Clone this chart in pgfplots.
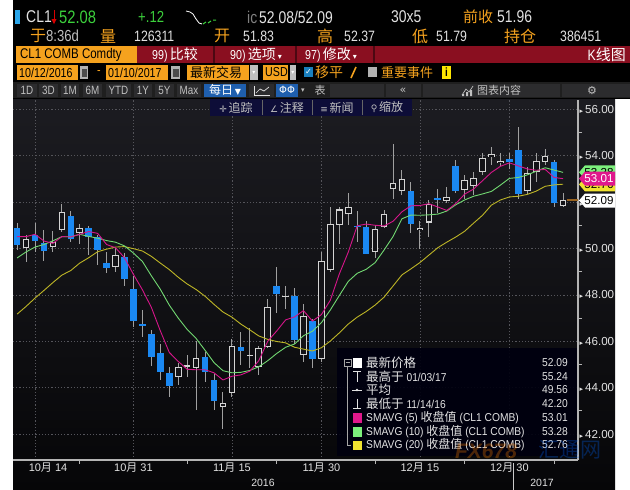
\documentclass[border=0pt]{standalone}
\usepackage{pgfplots}
\pgfplotsset{compat=1.18}
\usepackage{pgfplotstable}
\usepackage{fontspec}
\setmainfont{Liberation Sans}
\newfontfamily\cond{Liberation Sans}[FakeStretch=0.82]
\newfontfamily\legf{Liberation Sans}[FakeStretch=0.9]
\newfontfamily\cjk{Noto Sans CJK SC}
\newfontfamily\sym{DejaVu Sans}
\newcommand\fs[1]{\fontsize{#1}{#1}\selectfont}
\newcommand\md[2]{#1{\cjk 月} #2}

\definecolor{bbblue}{HTML}{1A88F2}
\definecolor{bbmag}{HTML}{D6158A}
\definecolor{bbgrn}{HTML}{72D872}
\definecolor{bbyel}{HTML}{BDB526}
\definecolor{bbora}{HTML}{F5A21E}
\definecolor{bbred}{HTML}{8A0F20}
\definecolor{bbtxt}{HTML}{E2E2E2}
\definecolor{bbgray}{HTML}{C0C0C0}
\definecolor{bbgrid}{HTML}{55555B}
\definecolor{bbwick}{HTML}{A0A0A0}
\definecolor{bbhol}{HTML}{D4D4D4}
\definecolor{bbin}{HTML}{131317}
\definecolor{bbaxis}{HTML}{B4B4B4}
\definecolor{bgtop}{HTML}{1C1C21}
\definecolor{bgbot}{HTML}{060608}
\definecolor{bbcyan}{HTML}{2AA6EA}
\definecolor{bbgreen}{HTML}{3CD03C}
\definecolor{bbbtn}{HTML}{1F5FAE}
\definecolor{cellgray}{HTML}{2C2C2E}
\definecolor{bbbrn}{HTML}{9A6420}
\definecolor{tagmag}{HTML}{E0188C}
\definecolor{taggrn}{HTML}{7CF07C}
\definecolor{tagyel}{HTML}{F0E230}

% CL1 daily candles, 10/12/2016 - 01/10/2017 (index = trading day)
\pgfplotstableread{
i O H L C
0 50.88 51.10 49.95 50.15
2 50.58 51.10 49.85 50.33
3 50.25 50.80 49.45 49.90
6 51.41 51.60 50.30 50.41
8 50.87 50.95 49.70 50.48
9 50.48 50.60 49.30 49.93
10 49.36 49.85 48.95 49.17
12 49.62 49.80 48.40 48.70
13 48.25 48.80 46.60 46.86
14 46.74 47.35 46.20 46.67
15 46.31 46.50 44.95 45.34
16 45.48 45.90 44.35 44.66
17 44.62 44.90 43.60 44.07
21 45.31 45.55 44.25 44.66
22 44.33 44.60 43.05 43.41
25 45.76 46.40 44.97 45.57
29 48.38 49.20 47.20 48.03
31 47.96 48.30 45.90 46.06
33 46.87 46.95 44.83 45.23
38 50.97 51.60 50.30 50.93
39 50.91 51.20 49.74 49.77
44 52.47 52.85 50.68 51.04
47 52.15 52.55 51.55 52.12
49 53.57 53.80 52.40 52.49
55 53.84 54.10 53.41 53.72
56 54.24 55.24 52.12 52.33
60 53.74 53.80 51.80 51.96
}\tabdn

\pgfplotstableread{
i O H L C
1 50.00 50.60 49.40 50.43
4 50.05 50.75 49.85 50.29
5 50.79 51.90 50.72 51.58
7 50.65 51.05 50.20 50.87
11 49.21 50.00 49.00 49.72
18 44.44 45.05 44.10 44.89
19 44.90 45.40 44.45 44.98
20 44.83 46.00 43.05 45.27
23 43.15 43.80 42.20 43.32
24 43.75 46.10 43.58 45.81
26 45.36 46.55 44.85 45.42
27 44.90 45.80 44.55 45.69
28 45.76 47.80 45.69 47.49
30 47.90 48.40 47.40 47.96
32 45.41 47.60 45.10 47.08
34 45.22 49.85 45.10 49.44
35 49.07 51.80 49.00 51.06
36 51.00 51.80 50.20 51.68
37 51.47 52.40 51.00 51.79
40 49.86 51.00 49.57 50.84
41 50.91 51.65 50.87 51.50
42 52.55 54.50 52.15 52.83
43 52.49 53.40 52.30 52.98
45 50.79 51.20 49.96 50.90
46 51.12 52.10 50.50 51.90
48 52.06 52.63 51.94 52.23
50 52.52 53.15 52.12 52.95
51 52.69 53.30 52.30 53.02
52 53.31 54.10 53.16 53.90
53 53.95 54.36 53.60 54.06
54 53.67 54.10 53.55 53.77
57 52.47 53.50 52.37 53.26
58 53.31 54.12 52.88 53.76
59 53.74 54.30 53.59 53.99
61 51.83 52.37 51.79 52.09
}\tabup

% moving averages of the close (5, 10, 20 days)
\pgfplotstableread{
i s5 s10 s20
0 50.51 49.59 47.17
1 50.51 49.85 47.50
2 50.61 50.06 47.86
3 50.32 50.17 48.19
4 50.22 50.33 48.53
5 50.51 50.51 48.85
6 50.50 50.50 49.05
7 50.61 50.61 49.37
8 50.73 50.52 49.60
9 50.65 50.44 49.86
10 50.17 50.34 49.97
11 50.03 50.27 50.06
12 49.60 50.11 50.08
13 48.88 49.80 49.99
14 48.22 49.44 49.89
15 47.46 48.82 49.66
16 46.45 48.24 49.37
17 45.52 47.56 49.09
18 45.13 47.00 48.76
19 44.79 46.51 48.47
20 44.77 46.12 48.23
21 44.77 45.61 47.94
22 44.64 45.08 47.59
23 44.33 44.73 47.26
24 44.49 44.64 47.04
25 44.55 44.66 46.74
26 44.71 44.74 46.49
27 45.16 44.90 46.23
28 46.00 45.16 46.08
29 46.44 45.47 45.99
30 46.92 45.74 45.93
31 47.05 45.88 45.74
32 47.32 46.24 45.66
33 46.87 46.43 45.58
34 47.15 46.80 45.72
35 47.77 47.35 46.01
36 48.90 47.97 46.36
37 49.84 48.58 46.74
38 50.98 48.93 47.04
39 51.05 49.10 47.28
40 51.00 49.39 47.56
41 50.97 49.93 47.90
42 51.17 50.51 48.38
43 51.58 51.28 48.86
44 51.84 51.44 49.12
45 51.85 51.43 49.39
46 51.93 51.45 49.71
47 51.79 51.48 50.03
48 51.64 51.61 50.27
49 51.93 51.88 50.49
50 52.34 52.09 50.74
51 52.56 52.25 51.09
52 52.92 52.35 51.43
53 53.28 52.46 51.87
54 53.54 52.73 52.09
55 53.69 53.02 52.22
56 53.56 53.06 52.25
57 53.43 53.17 52.33
58 53.37 53.33 52.47
59 53.41 53.48 52.68
60 53.06 53.38 52.74
61 53.01 53.28 52.77
}\tabma

\begin{document}
\begin{tikzpicture}[t/.style={anchor=west, inner sep=0pt}]
\useasboundingbox (0pt,0pt) rectangle (630pt,-490pt);
\begin{scope}[x=1pt,y=-1pt]
\fill[white] (0,0) rectangle (630,490);

% ---- header
\fill[black] (13,0) rectangle (630,99);
\fill[bbcyan] (15,10) rectangle (20,24);
\node[t, text=bbtxt] at (26,17) {\cond\fs{17}CL1};
\draw[red!85!black, line width=0.9pt] (54,10)--(54,21);
\fill[red!85!black] (51.5,19)--(56.5,19)--(54,24)--cycle;
\node[t, text=bbgreen] at (59,17) {\cond\fs{18}52.08};
\node[t, text=bbgreen] at (138,17) {\cond\fs{16}+.12};
\draw[white, line width=0.8pt] (186,11)--(190,12)--(193,14)--(196,19)--(199,23)--(202,24);
\draw[bbgreen, line width=1pt] (203,24)--(206,22) (208,23)--(211,21) (213,20)--(216,20);
\node[t, text=gray] at (247,17) {\cond\fs{17}ic};
\node[t, text=bbtxt] at (259,17) {\cond\fs{17}52.08/52.09};
\node[t, text=bbtxt] at (391,17) {\cond\fs{17}30x5};
\node[t, text=bbora] at (463,17) {\cjk\fs{15}前收};
\node[t, text=bbtxt] at (497,17) {\cond\fs{17}51.96};

\node[t, text=bbora] at (30,36) {\cjk\fs{16}于};
\node[t, text=bbgray] at (46,36) {\cond\fs{16}8:36d};
\node[t, text=bbora] at (100,36) {\cjk\fs{16}量};
\node[t, text=bbtxt] at (134,36) {\cond\fs{15}126311};
\node[t, text=bbora] at (214,36) {\cjk\fs{16}开};
\node[t, text=bbtxt] at (243,36) {\cond\fs{15}51.83};
\node[t, text=bbora] at (317,36) {\cjk\fs{16}高};
\node[t, text=bbtxt] at (344,36) {\cond\fs{15}52.37};
\node[t, text=bbora] at (412,36) {\cjk\fs{16}低};
\node[t, text=bbtxt] at (436,36) {\cond\fs{15}51.79};
\node[t, text=bbora] at (504,36) {\cjk\fs{16}持仓};
\node[t, text=bbtxt] at (560,36) {\cond\fs{15}386451};

\fill[bbora] (16,46) rectangle (137,63);
\fill[bbred] (137,46) rectangle (630,63);
\node[t] at (20,54.5) {\cond\fs{14}CL1 COMB Comdty};
\foreach \x in {214,296,374} \draw[bbred!55!black, line width=1.5pt] (\x,46)--(\x,63);
\node[t, text=white] at (152,54.5) {\cond\fs{13}99)\,{\cjk\fs{14}比较}};
\node[t, text=white] at (230,54.5) {\cond\fs{13}90)\,{\cjk\fs{14}选项}\,{\sym\fs{8}▾}};
\node[t, text=white] at (305,54.5) {\cond\fs{13}97)\,{\cjk\fs{14}修改}\,{\sym\fs{8}▾}};
\node[anchor=east, inner sep=0pt, text=white] at (626,54.5) {\cond\fs{15}K{\cjk\fs{15}线图}};

\fill[bbora] (17,65) rectangle (78,80); \node[t] at (19,72.5) {\cond\fs{13}10/12/2016};
\fill[gray!60] (80,66) rectangle (88,79); \fill[black!70] (81.5,69) rectangle (86.5,77);
\node[text=bbora] at (99,72.5) {\cond\fs{13}-};
\fill[bbora] (106,65) rectangle (168,80); \node[t] at (108,72.5) {\cond\fs{13}01/10/2017};
\fill[gray!60] (171,66) rectangle (180,79); \fill[black!70] (172.5,69) rectangle (178.5,77);
\fill[bbora] (187,65) rectangle (249,80); \node[t] at (190,72.5) {\cjk\fs{13}最新交易};
\fill[gray!50] (250,65) rectangle (258,80); \node[text=white] at (254,72.5) {\sym\fs{6}▾};
\fill[bbora] (263,65) rectangle (288,80); \node[t] at (265,72.5) {\cond\fs{13}USD};
\fill[gray!50] (290,65) rectangle (296,80); \node[text=white] at (293,72.5) {\sym\fs{6}▾};
\fill[bbbtn!80!cyan] (304,67) rectangle (313,77); \node[text=white] at (308.5,72) {\sym\fs{8}✓};
\node[t, text=bbora] at (315,72.5) {\cjk\fs{14}移平};
\draw[bbora, line width=1.6pt] (351,78)--(356,67);
\fill[gray!60] (368,67) rectangle (377,77);
\node[t, text=bbora] at (381,72.5) {\cjk\fs{13}重要事件};
\fill[yellow!90!orange] (442,66) rectangle (451,79); \node at (446.5,72.5) {\cond\fs{12}\bfseries i};

\fill[black!88] (13,82) rectangle (630,98);
\foreach \a/\b/\s in {17/37/1D,39/58/3D,61/79/1M,83/102/6M,106/131/YTD,134/152/1Y,155/174/5Y,177/201/Max}{
  \fill[cellgray] (\a,83.5) rectangle (\b,97);
  \node[text=bbgray] at ({(\a+\b)/2},90.3) {\cond\fs{12}\s};}
\fill[bbbtn] (204,83.5) rectangle (246,97);
\node[text=white] at (225,90.3) {{\cjk\fs{12}每日}\,{\sym\fs{8}▼}};
\fill[cellgray] (249,83.5) rectangle (274,97);
\draw[bbtxt, line width=.7pt] (254,86)--(254,95)--(270,95);
\draw[bbtxt, line width=.7pt] (256,93)--(260,89)--(264,91)--(269,87);
\fill[bbbtn] (276,83.5) rectangle (298,97);
\node[text=white] at (287,90.3) {\sym\fs{10}ΦΦ};
\node[text=bbgray] at (303,90.3) {\sym\fs{7}▾};
\node[text=bbgray] at (320,90.3) {\cjk\fs{11}表};
\fill[cellgray] (330,83.5) rectangle (384,97);
\fill[cellgray] (386,83.5) rectangle (421,97);
\fill[cellgray] (423,83.5) rectangle (560,97);
\fill[cellgray] (562,83.5) rectangle (630,97);
\node[text=bbgray] at (403,90.3) {\sym\fs{11}«};
\draw[bbgray, line width=.7pt] (462,95)--(466,89)--(469,92)--(473,86);
\fill[bbgray] (462,94) rectangle (464,96) (466,92) rectangle (468,96) (470,90) rectangle (472,96);
\node[t, text=bbgray] at (477,90.3) {\cjk\fs{11}图表内容};
\node[text=bbgray] at (592,90.3) {\sym\fs{11}⚙};

% ---- plot area background
\shade[top color=bgtop, bottom color=bgbot] (13,99) rectangle (615,490);
\end{scope}

\begin{axis}[
  at={(13pt,-460pt)}, anchor=south west,
  scale only axis, width=565pt, height=360pt,
  xmin=-0.46, xmax=62.67, ymin=40.88, ymax=56.40,
  axis x line*=bottom, axis y line*=right,
  axis line style={draw=bbaxis, line width=1.2pt},
  xtick={2,13,24,34,45,55},
  xticklabels={{\hspace*{26pt}\md{10}{14}},\md{10}{31},\md{11}{15},\md{11}{30},\md{12}{15},\md{12}{30}},
  minor xtick={7,19,29,40,50,60},
  ytick={42,44,...,56},
  minor ytick={43,45,...,55},
  grid=major,
  major grid style={draw=bbgrid, dash pattern=on 1.2pt off 2pt, line width=0.6pt},
  tick style={draw=bbaxis, line width=0.8pt},
  major tick length=0pt, minor tick length=4pt, tick align=outside,
  xticklabel style={font=\fs{11}, text=bbtxt, inner sep=0pt, yshift=-2.5pt},
  yticklabel={{\sym\fs{7}▸}\,\pgfmathprintnumber[fixed,fixed zerofill,precision=2,assume math mode=true]{\tick}},
  yticklabel style={font=\fs{11.6}, text=bbtxt, anchor=west, inner sep=0pt, xshift=1.5pt},
]
% wicks
\addplot[draw=none, forget plot, error bars/.cd, y dir=both, y explicit, error mark=none,
  error bar style={draw=bbwick, line width=1pt}]
  table[x=i, y expr={(\thisrow{H}+\thisrow{L})/2}, y error expr={(\thisrow{H}-\thisrow{L})/2}]{\tabdn};
\addplot[draw=none, forget plot, error bars/.cd, y dir=both, y explicit, error mark=none,
  error bar style={draw=bbwick, line width=1pt}]
  table[x=i, y expr={(\thisrow{H}+\thisrow{L})/2}, y error expr={(\thisrow{H}-\thisrow{L})/2}]{\tabup};
% down bodies
\addplot[draw=none, forget plot, error bars/.cd, y dir=both, y explicit, error mark=none,
  error bar style={draw=bbblue, line width=6.6pt}]
  table[x=i, y expr={(\thisrow{O}+\thisrow{C})/2}, y error expr={max((\thisrow{O}-\thisrow{C})/2,0.035)}]{\tabdn};
% up bodies (hollow)
\addplot[draw=none, forget plot, error bars/.cd, y dir=both, y explicit, error mark=none,
  error bar style={draw=bbhol, line width=6.6pt}]
  table[x=i, y expr={(\thisrow{O}+\thisrow{C})/2}, y error expr={max((\thisrow{C}-\thisrow{O})/2,0.035)}]{\tabup};
\addplot[draw=none, forget plot, error bars/.cd, y dir=both, y explicit, error mark=none,
  error bar style={draw=bbin, line width=4.6pt}]
  table[x=i, y expr={(\thisrow{O}+\thisrow{C})/2}, y error expr={max((\thisrow{C}-\thisrow{O})/2-0.045,0)}]{\tabup};
% moving averages
\addplot[bbyel, line width=0.9pt] table[x=i, y=s20]{\tabma};
\addplot[bbgrn, line width=0.9pt] table[x=i, y=s10]{\tabma};
\addplot[bbmag, line width=0.9pt] table[x=i, y=s5]{\tabma};
% last price
\addplot[bbbrn, line width=2pt] coordinates {(61.45,52.09) (62.67,52.09)};
\end{axis}

\begin{scope}[x=1pt,y=-1pt]
% toolbar over the plot
\fill[black!82!blue!95] (210,99) rectangle (412,116);
\foreach \x in {262,312,362} \draw[black!60] (\x,100)--(\x,115);
\node[text=bbgray] at (236,107.5) {{\sym\fs{9}✛}\,{\cjk\fs{12}追踪}};
\node[text=bbgray] at (287,107.5) {{\sym\fs{9}∠}\,{\cjk\fs{12}注释}};
\node[text=bbgray] at (337,107.5) {{\sym\fs{9}≡}\,{\cjk\fs{12}新闻}};
\node[text=bbgray] at (387,107.5) {{\sym\fs{9}⚲}\,{\cjk\fs{12}缩放}};

% price tags on the right axis
\newcommand\tag[4]{\fill[#2] (579,#1)--(585,#1-7)--(615,#1-7)--(615,#1+7)--(585,#1+7)--cycle;
  \node[text=#3] at (599,#1) {\fs{11.6}#4};}
\tag{172.3}{taggrn}{black}{53.28}
\tag{184.4}{tagyel}{black}{52.76}
\tag{178.6}{tagmag}{white}{53.01}
\tag{200.5}{white}{black}{52.09}

% years
\draw[bbaxis!70, line width=0.8pt] (513,463)--(513,490);
\node[text=bbtxt] at (263,482.5) {\fs{10.5}2016};
\node[text=bbtxt] at (542,482.5) {\fs{10.5}2017};

% legend box
\fill[black!94!blue, fill opacity=0.93] (337,348) rectangle (577,456);
\draw[gray!70] (344,359) rectangle (351,366);
\draw[gray!70] (345.5,362.5)--(349.5,362.5);
\draw[gray!70] (347.5,366)--(347.5,445)--(351,445);
\fill[white] (353,357.5) rectangle (362,367.5);
\draw[bbtxt, line width=.8pt] (353,371.5)--(361,371.5) (357,371.5)--(357,381.5);
\draw[bbtxt, line width=.8pt] (352,390)--(362,390); \fill[bbtxt] (357,390) circle[radius=1.4];
\draw[bbtxt, line width=.8pt] (357,398.5)--(357,408.5) (353,408.5)--(361,408.5);
\fill[tagmag] (353,413) rectangle (362,422.5);
\fill[taggrn] (353,427) rectangle (362,436.5);
\fill[tagyel] (353,440.5) rectangle (362,450);
\foreach \y/\a/\b in {
  362.7/{{\cjk\fs{12.5}最新价格}}/52.09,
  376.7/{{\cjk\fs{12.5}最高于} 01/03/17}/55.24,
  390/{{\cjk\fs{12.5}平均}}/49.56,
  404/{{\cjk\fs{12.5}最低于} 11/14/16}/42.20,
  417.7/{SMAVG (5) {\cjk\fs{12}收盘值} (CL1 COMB)}/53.01,
  431.7/{SMAVG (10) {\cjk\fs{12}收盘值} (CL1 COMB)}/53.28,
  445/{SMAVG (20) {\cjk\fs{12}收盘值} (CL1 COMB)}/52.76}{
  \node[t, text=bbtxt] at (366,\y) {\legf\fs{11.4}\a};
  \node[anchor=east, inner sep=0pt, text=bbtxt] at (568,\y) {\legf\fs{11.4}\b};}

% watermark
\node[opacity=0.3, text=orange] at (486,451) {\fs{21}\bfseries\itshape FX678};
\node[opacity=0.3, text=blue!60!cyan] at (570,450) {\cjk\fs{21}汇通网};
\end{scope}
\end{tikzpicture}
\end{document}
